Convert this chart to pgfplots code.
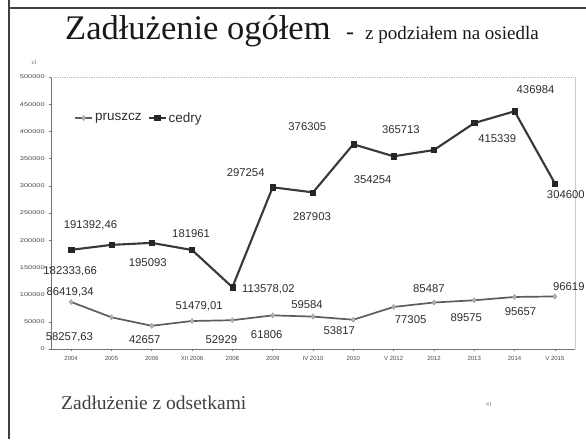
\documentclass[border=0pt]{standalone}
\usepackage{pgfplots}
\usepackage{pgfplotstable}
\pgfplotsset{compat=1.18}
\usepackage{fontspec}
\setmainfont{Liberation Sans}
\newfontfamily\serif{Liberation Serif}
\definecolor{cedrycol}{HTML}{383838}
\definecolor{pruszcol}{HTML}{5E5E55}
\definecolor{labcol}{HTML}{2E2E2E}
\pgfplotstableread{
x y lab lx ly
0 182333.66 182333,66 -1 -21
1 191392.46 191392,46 -21 20
2 195093 195093 -4 -20
3 181961 181961 -1 16
4 113578.02 113578,02 36 -2
5 297254 297254 -27 15
6 287903 287903 -1 -24
7 376305 376305 -46 18
8 354254 354254 -21 -23
9 365713 365713 -33 20
10 415339 415339 23 -16
11 436984 436984 21 22
12 304600 304600 11 -11
}\cedry
\pgfplotstableread{
x y lab lx ly
0 86419.34 86419,34 -1 10
1 58257.63 58257,63 -42 -20
2 42657 42657 -7 -14
3 51479.01 51479,01 7 15
4 52929 52929 -11 -19
5 61806 61806 -6 -19
6 59584 59584 -6 12
7 53817 53817 -14 -11
8 77305 77305 17 -13
9 85487 85487 -5 14
10 89575 89575 -8 -17
11 95657 95657 6 -15
12 96619 96619 14 10
}\pruszcz
\begin{document}
\begin{tikzpicture}
\useasboundingbox (0,0) rectangle (586pt,-439pt);
\clip (0,0) rectangle (586pt,-439pt);
\fill[white] (0,0) rectangle (586pt,-439pt);
% slide frame
\draw[line width=2.8pt, color=black!75] (9pt,0pt) -- (9pt,-439pt);
\draw[line width=1.8pt, color=black!75] (8pt,-8pt) -- (586pt,-8pt);
% title
\node[anchor=base west, inner sep=0pt, text=black!90] at (65pt,-39pt) {\serif\fontsize{34.5}{38}\selectfont Zadłużenie ogółem};
\node[anchor=base west, inner sep=0pt, text=black!90] at (346pt,-39pt) {\serif\fontsize{24}{26}\selectfont -};
\node[anchor=base west, inner sep=0pt, text=black!90] at (365pt,-39pt) {\serif\fontsize{19}{21}\selectfont z podziałem na osiedla};
% unit
\node[anchor=center, inner sep=0pt, text=black!50] at (34pt,-62pt) {\serif\fontsize{6.5}{7}\selectfont zł};
% footer
\node[anchor=base west, inner sep=0pt, text=black!75] at (61pt,-409pt) {\serif\fontsize{19.5}{21}\selectfont Zadłużenie z odsetkami};
\node[anchor=center, inner sep=0pt, text=black!45] at (489pt,-404pt) {\serif\fontsize{6.5}{7}\selectfont 41};
\begin{axis}[
  at={(51pt,-349pt)}, anchor=south west,
  width=524pt, height=272pt, scale only axis,
  xmin=-0.5, xmax=12.5, ymin=0, ymax=500000,
  xtick={0,...,12},
  xticklabels={2004,2005,2006,XII 2006,2008,2009,IV 2010,2010,V 2012,2012,2013,2014,V 2015},
  ytick={0,50000,...,500000},
  scaled y ticks=false,
  /pgf/number format/assume math mode=true,
  yticklabel style={/pgf/number format/fixed, /pgf/number format/1000 sep={}, font=\fontsize{5.5}{6}\selectfont, xscale=1.35, text=black!70, inner sep=1pt, xshift=-2pt},
  xticklabel style={font=\fontsize{6}{7}\selectfont, text=black!70, inner sep=1pt, yshift=-4pt},
  axis x line*=bottom, axis y line*=left,
  axis line style={black!55, line width=0.9pt},
  tick style={black!55, line width=0.6pt},
  tick align=outside, major tick length=2pt,
  clip mode=individual,
  point meta=explicit symbolic,
  legend style={at={(axis description cs:0.044,0.849)}, anchor=west, draw=none, fill=none,
    font=\fontsize{13.5}{14}\selectfont, text=labcol, legend columns=2,
    /tikz/every even column/.append style={column sep=4pt}, inner sep=0pt},
  legend cell align=left,
]
\draw[black!25, densely dotted, line width=0.8pt] (rel axis cs:0,1) -- (rel axis cs:1,1);
\draw[black!20, line width=0.6pt] (rel axis cs:1,1) -- (rel axis cs:1,0);
\addplot[pruszcol, line width=1.7pt, mark=diamond*, mark size=2.6pt,
  mark options={fill=black!30, draw=black!40, line width=0.4pt},
  nodes near coords,
  visualization depends on={\thisrow{lx} \as \lx},
  visualization depends on={\thisrow{ly} \as \ly},
  nodes near coords style={anchor=center, xshift=\lx pt, yshift=\ly pt, font=\fontsize{11.3}{12}\selectfont, text=labcol, inner sep=0pt},
] table[x=x, y=y, meta=lab] {\pruszcz};
\addlegendentry{pruszcz}
\addplot[cedrycol, line width=2.1pt, mark=square*, mark size=2.6pt,
  mark options={fill=black!85, draw=black!85, line width=0.4pt},
  nodes near coords,
  visualization depends on={\thisrow{lx} \as \lx},
  visualization depends on={\thisrow{ly} \as \ly},
  nodes near coords style={anchor=center, xshift=\lx pt, yshift=\ly pt, font=\fontsize{11.3}{12}\selectfont, text=labcol, inner sep=0pt},
] table[x=x, y=y, meta=lab] {\cedry};
\addlegendentry{cedry}
\end{axis}
\end{tikzpicture}
\end{document}
